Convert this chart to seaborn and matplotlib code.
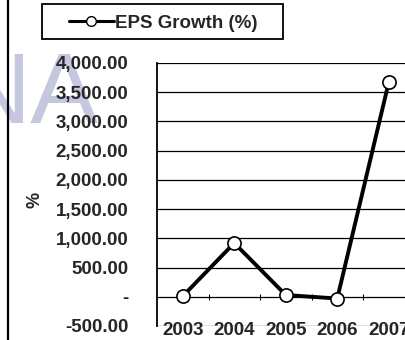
import matplotlib
matplotlib.use("Agg")
import matplotlib.pyplot as plt
import matplotlib.lines as mlines
from matplotlib.patches import Rectangle
import seaborn as sns
import pandas as pd

# EPS growth by year (%)
years = ["2003", "2004", "2005", "2006", "2007"]
eps_growth = [10, 920, 30, -30, 3670]
y_ticks = [-500, 0, 500, 1000, 1500, 2000, 2500, 3000, 3500, 4000]
y_tick_labels = ["-500.00", "-", "500.00", "1,000.00", "1,500.00", "2,000.00",
                 "2,500.00", "3,000.00", "3,500.00", "4,000.00"]
series_name = "EPS Growth (%)"

df = pd.DataFrame({"Year": years, "EPS": eps_growth})

sns.set_style("white")
plt.rcParams["font.family"] = ["Liberation Sans", "DejaVu Sans"]

W, H = 406, 340
fig = plt.figure(figsize=(W / 100, H / 100), dpi=100)
fig.patch.set_facecolor("white")

# Faint watermark behind the chart
wm = fig.text(-42 / W, 1 - 123 / H, "NA", fontsize=73, color="#c4c7de",
              ha="left", va="baseline")
wm.set_zorder(-5)

# Plot area runs past the right edge of the figure
ax = fig.add_axes([157 / W, 1 - 326 / H, 5 * 51.5 / W, 263 / H])
ax.set_facecolor("none")
ax.set_zorder(1)

sns.lineplot(data=df, x="Year", y="EPS", ax=ax, sort=False, color="black",
             linewidth=2.8, marker="o", markersize=9.5,
             markerfacecolor="white", markeredgecolor="black",
             markeredgewidth=1.2, zorder=5, clip_on=False)

ax.set_xlim(-0.5, 4.5)
ax.set_ylim(-500, 4000)
ax.set_yticks(y_ticks)
ax.set_yticklabels(y_tick_labels)
ax.yaxis.grid(True, color="black", linewidth=0.9)
ax.set_axisbelow(True)

for side in ["top", "right", "bottom"]:
    ax.spines[side].set_visible(False)
ax.spines["left"].set_color("black")
ax.spines["left"].set_linewidth(1.3)

ax.tick_params(axis="y", direction="out", length=4, width=1, color="black",
               pad=16.5, labelsize=13.5)
for lab in ax.get_yticklabels():
    lab.set_fontweight("bold")

ax.tick_params(axis="x", length=0, pad=-3, labelsize=13.5)
for lab in ax.get_xticklabels():
    lab.set_fontweight("bold")
ax.set_xlabel("")
ax.set_ylabel("%", fontsize=13, fontweight="bold")
ax.yaxis.set_label_coords(-0.44, 0.48)

# Category axis crossing at zero with tick marks between categories
zero_frac = 500 / 4500
sec = ax.secondary_xaxis(zero_frac)
sec.set_xticks([0.5, 1.5, 2.5, 3.5, 4.5])
sec.set_xticklabels([])
sec.tick_params(direction="inout", length=5, width=0.8, color="black")
sec.spines["bottom"].set_visible(False)
sec.spines["top"].set_visible(False)

# Legend
handle = mlines.Line2D([], [], color="black", linewidth=2.2, marker="o",
                       markersize=7, markerfacecolor="white",
                       markeredgecolor="black")
leg = fig.legend([handle], [series_name], loc="center left",
                 bbox_to_anchor=(52 / W, 1 - 23 / H), frameon=False,
                 handlelength=2.4, handletextpad=0.05,
                 prop={"weight": "bold", "size": 13.5})
fig.add_artist(Rectangle((42 / W, 1 - 39 / H), 241 / W, 35 / H,
                         transform=fig.transFigure, fill=False,
                         edgecolor="black", linewidth=1.3))

# Left frame border
fig.add_artist(mlines.Line2D([8.5 / W, 8.5 / W], [0, 1],
                             transform=fig.transFigure, color="black",
                             linewidth=1.6))

fig.savefig("out.png", dpi=100)
